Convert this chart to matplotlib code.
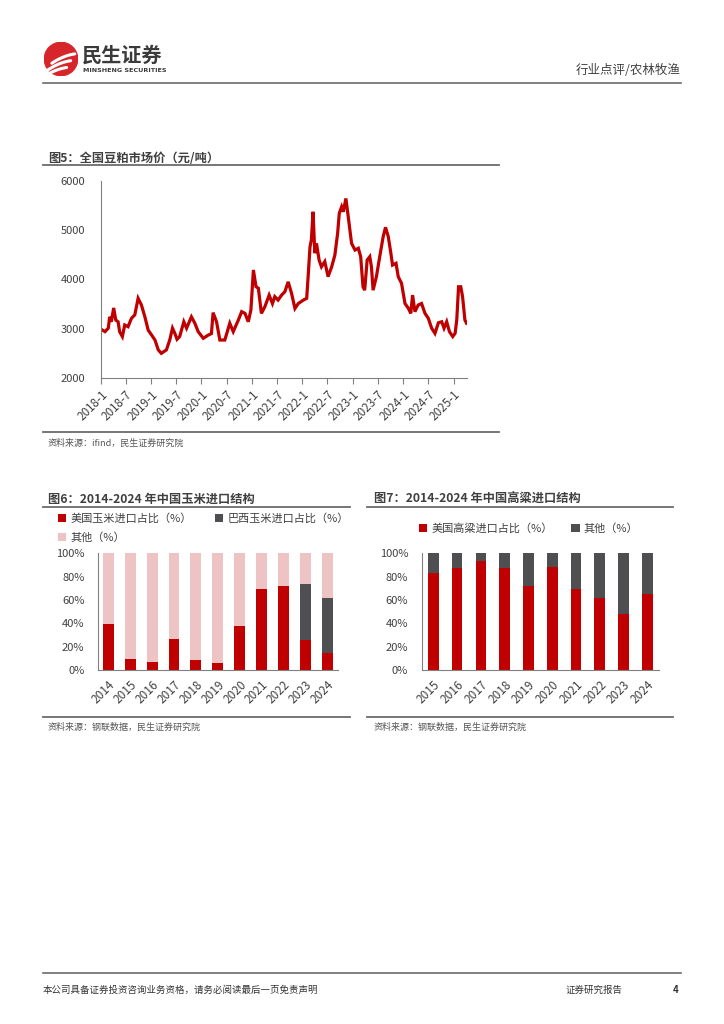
import matplotlib
matplotlib.use("Agg")
import matplotlib.pyplot as plt
from matplotlib.lines import Line2D
from matplotlib.patches import Circle
import pandas as pd
import numpy as np

plt.rcParams['font.family'] = ['Noto Sans CJK SC', 'DejaVu Sans']

# ---------------- data ----------------
meal_dates = [
    "2018-01-02", "2018-02-01", "2018-02-25", "2018-03-07", "2018-03-19", "2018-04-05", "2018-04-20",
    "2018-05-07", "2018-05-18", "2018-06-07", "2018-06-24", "2018-07-18", "2018-08-12", "2018-09-05",
    "2018-09-29", "2018-10-23", "2018-11-17", "2018-12-11", "2019-01-05", "2019-01-29", "2019-02-22",
    "2019-03-16", "2019-04-22", "2019-05-16", "2019-06-05", "2019-06-22", "2019-07-08", "2019-07-27",
    "2019-08-26", "2019-09-15", "2019-10-20", "2019-11-14", "2019-12-08", "2020-01-14", "2020-02-19",
    "2020-03-13", "2020-03-25", "2020-04-19", "2020-05-13", "2020-06-18", "2020-07-24", "2020-08-18",
    "2020-09-24", "2020-10-18", "2020-11-11", "2020-12-05", "2020-12-24", "2021-01-11", "2021-01-30",
    "2021-02-16", "2021-03-10", "2021-04-04", "2021-05-05", "2021-05-29", "2021-06-15", "2021-07-09",
    "2021-08-03", "2021-08-27", "2021-09-20", "2021-10-14", "2021-11-08", "2021-12-02", "2022-01-08",
    "2022-02-01", "2022-02-13", "2022-02-25", "2022-03-07", "2022-03-19", "2022-04-01", "2022-04-13",
    "2022-05-02", "2022-05-19", "2022-06-12", "2022-07-06", "2022-08-01", "2022-08-24", "2022-09-13",
    "2022-09-25", "2022-10-12", "2022-10-24", "2022-11-12", "2022-11-29", "2022-12-23", "2023-01-17",
    "2023-02-10", "2023-02-27", "2023-03-16", "2023-03-28", "2023-04-15", "2023-05-04", "2023-05-16",
    "2023-05-28", "2023-06-21", "2023-07-15", "2023-08-09", "2023-08-26", "2023-09-15", "2023-10-02",
    "2023-10-16", "2023-11-10", "2023-11-26", "2023-12-20", "2024-01-14", "2024-02-08", "2024-02-25",
    "2024-03-09", "2024-03-26", "2024-04-19", "2024-05-13", "2024-06-07", "2024-07-01", "2024-07-25",
    "2024-08-18", "2024-09-12", "2024-10-06", "2024-10-23", "2024-11-11", "2024-12-01", "2024-12-25",
    "2025-01-11", "2025-01-23", "2025-02-05", "2025-02-21", "2025-03-06", "2025-03-23", "2025-04-04",
]
meal_price = [
    2990, 2940, 3010, 3240, 3140, 3420, 3175,
    3140, 2940, 2840, 3075, 3040, 3210, 3280,
    3615, 3480, 3240, 2970, 2870, 2770, 2570,
    2500, 2570, 2770, 3010, 2905, 2785, 2840,
    3140, 3010, 3240, 3110, 2940, 2805, 2870,
    2900, 3325, 3140, 2770, 2770, 3110, 2940,
    3175, 3345, 3310, 3140, 3380, 4190, 3850,
    3820, 3310, 3445, 3680, 3510, 3650, 3580,
    3680, 3750, 3950, 3720, 3410, 3510, 3580,
    3615, 4120, 4660, 4800, 5370, 4530, 4730,
    4390, 4255, 4360, 4055, 4255, 4490, 4930,
    5340, 5470, 5370, 5640, 5270, 4730, 4595,
    4630, 4460, 3850, 3780, 4390, 4460, 4255,
    3780, 4055, 4460, 4865, 5055, 4865, 4560,
    4290, 4325, 4055, 3920, 3510, 3410, 3310,
    3680, 3345, 3480, 3510, 3310, 3210, 3010,
    2905, 3120, 3140, 3010, 3140, 2940, 2840,
    2905, 3175, 3850, 3850, 3650, 3175, 3110,
]

corn_years = ["2014", "2015", "2016", "2017", "2018", "2019", "2020", "2021", "2022", "2023", "2024"]
corn_us = [39.1, 9.1, 6.6, 26.3, 8.6, 6.3, 38.0, 69.7, 71.7, 26.0, 14.9]
corn_brazil = [0, 0, 0, 0, 0, 0, 0, 0, 0, 47.4, 47.1]
corn_other = [100 - a - b for a, b in zip(corn_us, corn_brazil)]

sorg_years = ["2015", "2016", "2017", "2018", "2019", "2020", "2021", "2022", "2023", "2024"]
sorg_us = [83.1, 87.7, 93.4, 87.4, 72.0, 88.0, 69.1, 62.0, 47.7, 65.4]
sorg_other = [100 - a for a in sorg_us]

RED = "#C00000"
DARK = "#4F4F51"
PINK = "#EEC3C4"
TXT = "#404040"
RULE = "#6b6b6b"

W, H = 724, 1024
fig = plt.figure(figsize=(W / 100, H / 100), dpi=100)


def rect(x0, y0, x1, y1):
    return [x0 / W, 1 - y1 / H, (x1 - x0) / W, (y1 - y0) / H]


def fx(x):
    return x / W


def fy(y):
    return 1 - y / H


def hline(x0, x1, y, lw=1.0, color=RULE):
    fig.add_artist(Line2D([fx(x0), fx(x1)], [fy(y), fy(y)], color=color, lw=lw))


def style_axes(a):
    for s in ('top', 'right'):
        a.spines[s].set_visible(False)
    for s in ('left', 'bottom'):
        a.spines[s].set_color("#808080")
        a.spines[s].set_linewidth(0.8)


# ---------------- header ----------------
lax = fig.add_axes(rect(44, 42, 78, 76))
lax.set_xlim(-1, 1)
lax.set_ylim(-1, 1)
lax.set_aspect('equal')
lax.axis('off')
lax.add_patch(Circle((0, 0), 0.98, color="#D7262B"))
t = np.linspace(0, 1, 30)
for off in (-0.45, -0.05, 0.35):
    xs = -0.75 + off * 0.6 + 1.35 * t
    ys = -0.6 + off + 0.9 * t - 0.35 * t ** 2
    lax.plot(xs, ys, color="white", lw=2.2, solid_capstyle='round')

fig.text(fx(82), fy(55), "民生证券", fontsize=14.5, fontweight='bold', color="#3a3a3a", va='center', ha='left')
fig.text(fx(83), fy(71), "MINSHENG SECURITIES", fontsize=4.6, fontweight='bold', color="#3a3a3a",
         va='center', ha='left', family=['DejaVu Sans'])
fig.text(fx(681), fy(70), "行业点评/农林牧渔", fontsize=9, color=TXT, va='center', ha='right')
hline(43, 681, 83, lw=1.2)

# ---------------- footer ----------------
hline(43, 681, 973, lw=1.2)
fig.text(fx(43), fy(990), "本公司具备证券投资咨询业务资格，请务必阅读最后一页免责声明", fontsize=6.8,
         color="#333333", va='center', ha='left')
fig.text(fx(566), fy(990), "证券研究报告", fontsize=6.8, color="#333333", va='center', ha='left')
fig.text(fx(676), fy(990), "4", fontsize=7, fontweight='bold', color="#333333", va='center', ha='center')

# ---------------- chart 5 ----------------
fig.text(fx(48), fy(158), "图5：全国豆粕市场价（元/吨）", fontsize=8.8, fontweight='bold', color=TXT,
         va='center', ha='left')
hline(43, 499, 165, lw=1.3)
hline(43, 499, 432, lw=1.3)
fig.text(fx(48), fy(443), "资料来源：ifind，民生证券研究院", fontsize=6.5, color="#555555", va='center', ha='left')

ax = fig.add_axes(rect(100.7, 180.7, 466.7, 378))
d = pd.to_datetime(meal_dates)
ax.plot(d, meal_price, color=RED, lw=2.3, solid_joinstyle='miter')
ax.set_xlim(pd.Timestamp("2018-01-01"), pd.Timestamp("2025-04-05"))
ax.set_ylim(2000, 6000)
ax.set_yticks([2000, 3000, 4000, 5000, 6000])
ticks = pd.date_range("2018-01-01", "2025-01-01", freq="6MS")
ax.set_xticks(ticks)
ax.set_xticklabels([f"{t.year}-{t.month}" for t in ticks], rotation=45, ha='right',
                   rotation_mode='anchor', fontsize=8.4, color=TXT)
for lbl in ax.get_yticklabels():
    lbl.set_fontsize(8)
    lbl.set_color(TXT)
ax.tick_params(axis='y', length=0, pad=11)
ax.tick_params(axis='x', length=4, width=0.8, color="#808080", direction='out', pad=3)
style_axes(ax)

# ---------------- chart 6 ----------------
fig.text(fx(48), fy(499), "图6：2014-2024 年中国玉米进口结构", fontsize=8.8, fontweight='bold', color=TXT,
         va='center', ha='left')
hline(43, 350, 507, lw=1.3)
hline(43, 350, 717, lw=1.3)
fig.text(fx(48), fy(727), "资料来源：钢联数据，民生证券研究院", fontsize=6.5, color="#555555", va='center', ha='left')

ax6 = fig.add_axes(rect(98.3, 553.3, 338, 670))
x6 = np.arange(len(corn_years))
b1 = ax6.bar(x6, corn_us, width=0.5, color=RED)
b2 = ax6.bar(x6, corn_brazil, width=0.5, bottom=corn_us, color=DARK)
b3 = ax6.bar(x6, corn_other, width=0.5, bottom=[a + b for a, b in zip(corn_us, corn_brazil)], color=PINK)
ax6.set_xlim(-0.457, 10.49)
ax6.set_ylim(0, 100)
ax6.set_yticks([0, 20, 40, 60, 80, 100])
ax6.set_yticklabels([f"{v}%" for v in [0, 20, 40, 60, 80, 100]], fontsize=8, color=TXT)
ax6.set_xticks(x6)
ax6.set_xticklabels(corn_years, rotation=45, ha='right', rotation_mode='anchor', fontsize=8.5, color=TXT)
ax6.tick_params(length=0)
ax6.tick_params(axis='y', pad=10)
ax6.tick_params(axis='x', pad=6)
style_axes(ax6)
fig.legend([b1, b3, b2], ["美国玉米进口占比（%）", "其他（%）", "巴西玉米进口占比（%）"],
           ncol=2, loc='upper left', bbox_to_anchor=(fx(58), fy(513)), frameon=False,
           fontsize=8, handlelength=0.75, handleheight=0.75, handletextpad=0.35,
           columnspacing=2.1, labelspacing=0.75, borderpad=0, borderaxespad=0,
           labelcolor=TXT)

# ---------------- chart 7 ----------------
fig.text(fx(374), fy(499), "图7：2014-2024 年中国高粱进口结构", fontsize=8.8, fontweight='bold', color=TXT,
         va='center', ha='left')
hline(367, 673, 507, lw=1.3)
hline(367, 673, 717, lw=1.3)
fig.text(fx(374), fy(727), "资料来源：钢联数据，民生证券研究院", fontsize=6.5, color="#555555", va='center', ha='left')

ax7 = fig.add_axes(rect(422, 553.3, 659, 670))
x7 = np.arange(len(sorg_years))
c1 = ax7.bar(x7, sorg_us, width=0.45, color=RED)
c2 = ax7.bar(x7, sorg_other, width=0.45, bottom=sorg_us, color=DARK)
ax7.set_xlim(-0.475, 9.49)
ax7.set_ylim(0, 100)
ax7.set_yticks([0, 20, 40, 60, 80, 100])
ax7.set_yticklabels([f"{v}%" for v in [0, 20, 40, 60, 80, 100]], fontsize=8, color=TXT)
ax7.set_xticks(x7)
ax7.set_xticklabels(sorg_years, rotation=45, ha='right', rotation_mode='anchor', fontsize=8.5, color=TXT)
ax7.tick_params(length=0)
ax7.tick_params(axis='y', pad=10)
ax7.tick_params(axis='x', pad=6)
style_axes(ax7)
fig.legend([c1, c2], ["美国高粱进口占比（%）", "其他（%）"],
           ncol=2, loc='upper left', bbox_to_anchor=(fx(419), fy(523)), frameon=False,
           fontsize=8, handlelength=0.75, handleheight=0.75, handletextpad=0.35,
           columnspacing=1.7, borderpad=0, borderaxespad=0, labelcolor=TXT)

fig.savefig("out.png", dpi=100)
